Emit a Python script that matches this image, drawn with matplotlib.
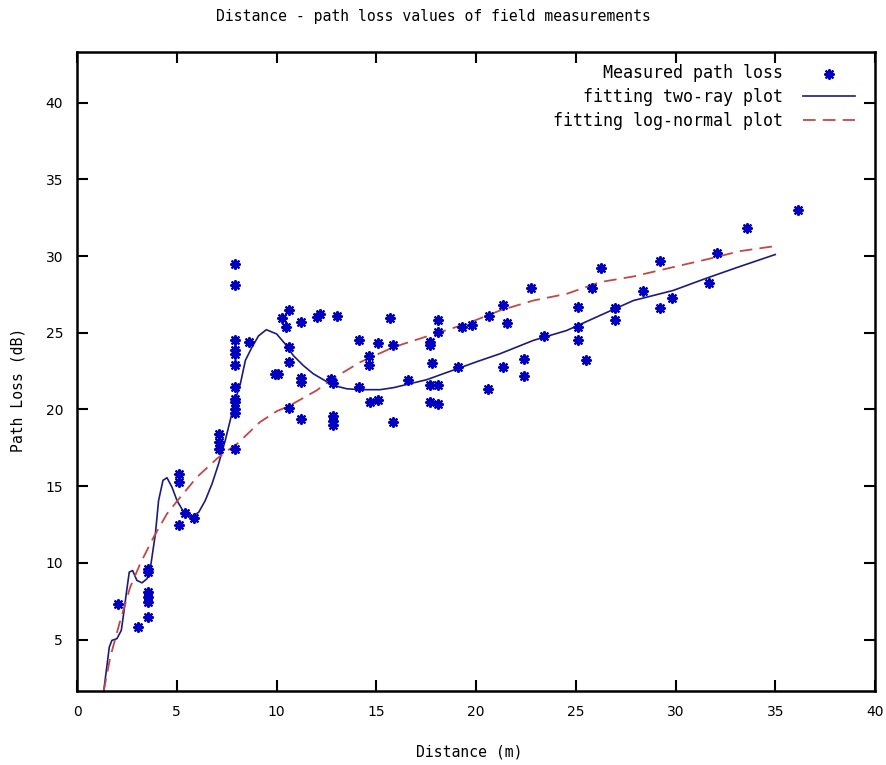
import matplotlib
matplotlib.use('agg')
import matplotlib.pyplot as plt
import numpy as np

# measured path loss points (distance m, loss dB)
meas_dist = [2.04, 3.06, 3.56, 3.56, 3.56, 3.56, 3.56, 3.56,
             5.1, 5.1, 5.1, 5.43, 5.88,
             7.1, 7.1, 7.1,
             7.93, 7.93, 7.93, 7.93, 7.93, 7.93, 7.93, 7.93, 7.93, 7.93, 7.93, 7.93, 8.6,
             9.9, 10.1, 10.29, 10.46, 10.63, 10.63, 10.63, 10.63,
             11.21, 11.21, 11.21, 11.21, 12.05, 12.2, 13.05,
             12.73, 12.82, 12.82, 12.82, 12.82,
             14.15, 14.15, 14.65, 14.65, 14.69, 15.07, 15.07, 15.69, 15.86, 15.86, 16.6,
             17.69, 17.69, 17.78, 17.69, 18.11, 17.69, 18.11, 18.1, 18.1,
             19.11, 19.31, 19.8, 20.62, 20.67, 21.34, 21.34, 21.57, 22.41, 22.41, 22.74, 23.41,
             25.13, 25.13, 25.13, 25.51, 25.8, 26.27, 26.97, 26.97, 28.39, 29.22, 29.22, 29.81,
             31.68, 32.1, 33.6, 36.16]
meas_loss = [7.35, 5.8, 9.6, 9.4, 8.1, 7.8, 7.45, 6.47,
             15.8, 15.27, 12.45, 13.25, 12.95,
             18.4, 17.9, 17.4,
             17.45, 19.8, 20.0, 20.5, 20.7, 21.45, 22.9, 23.6, 23.9, 24.5, 28.1, 29.5, 24.4,
             22.3, 22.3, 25.98, 25.4, 26.5, 24.06, 23.1, 20.1,
             25.7, 22.07, 21.8, 19.4, 26.0, 26.2, 26.06,
             22.0, 21.7, 19.55, 19.22, 18.96,
             24.5, 21.46, 23.5, 22.87, 20.48, 24.35, 20.6, 25.98, 24.2, 19.18, 21.94,
             24.4, 24.2, 23.0, 21.57, 21.57, 20.48, 20.33, 25.85, 25.04,
             22.76, 25.4, 25.5, 21.35, 26.06, 26.82, 22.76, 25.63, 23.3, 22.2, 27.9, 24.82,
             26.7, 25.37, 24.5, 23.2, 27.93, 29.2, 26.6, 25.85, 27.7, 29.67, 26.63, 27.28,
             28.23, 30.2, 31.84, 33.03]

# two-ray fit curve, traced
tworay_d = [1.34, 1.62, 1.75, 2.0, 2.22, 2.34, 2.47, 2.62, 2.79, 3.0, 3.26, 3.51, 3.71,
            3.93, 4.09, 4.31, 4.51, 4.76, 5.01, 5.35, 5.76, 6.1, 6.43, 6.77, 7.1, 7.43,
            7.68, 7.93, 8.19, 8.44, 8.77, 9.1, 9.49, 9.86, 10.0, 10.43, 10.84, 11.34, 11.84,
            12.35, 12.85, 13.52, 14.19, 15.19, 15.86, 16.69, 17.53, 18.36, 19.2, 20.12,
            21.2, 22.87, 24.55, 26.22, 27.89, 29.89, 31.56, 33.23, 35.0]
tworay_pl = [1.65, 4.52, 4.95, 5.06, 5.6, 6.7, 8.0, 9.4, 9.5, 8.86, 8.7, 8.97, 9.95,
             11.9, 14.07, 15.38, 15.55, 14.94, 14.07, 13.3, 13.0, 13.3, 14.07, 15.16, 16.47, 17.98,
             19.29, 20.6, 21.68, 23.2, 24.06, 24.8, 25.2, 25.0, 24.93, 24.28, 23.52, 22.87, 22.33,
             21.94, 21.57, 21.35, 21.29, 21.29, 21.42, 21.68, 21.94, 22.33, 22.72, 23.15,
             23.63, 24.5, 25.15, 26.13, 27.1, 27.76, 28.56, 29.32, 30.1]

# log-normal fit curve, traced
lognorm_d = [1.34, 1.67, 2.17, 2.67, 3.17, 3.84, 4.51, 5.18, 6.02, 7.02, 7.52, 8.02,
             9.17, 10.03, 10.59, 12.01, 12.68, 14.19, 15.86, 17.86, 19.53, 21.2, 22.87,
             24.55, 26.22, 27.89, 29.89, 31.56, 33.23, 35.0]
lognorm_pl = [1.65, 3.87, 6.26, 8.43, 9.95, 11.68, 13.2, 14.29, 15.6, 16.8, 17.3, 17.75,
              19.18, 19.9, 20.2, 21.24, 21.9, 23.08, 24.06, 24.9, 25.59, 26.45, 27.1,
              27.54, 28.3, 28.67, 29.28, 29.78, 30.32, 30.65]

W, H = 886, 765
fig = plt.figure(figsize=(W / 100, H / 100), dpi=100)
ax = fig.add_axes([77 / W, 1 - 691 / H, (875 - 77) / W, (691 - 52) / H])

mono = 'DejaVu Sans Mono'
fs = 10.6    # title / axis labels
fs_leg = 12  # gnuplot key text is a bit larger

ax.scatter(meas_dist, meas_loss, marker=(8, 2, 0), s=40, linewidths=1.6,
           color='#0000c0', label='Measured path loss', zorder=3)
ax.plot(tworay_d, tworay_pl, color='#1c1c78', lw=1.2, label='fitting two-ray plot', zorder=2)
ax.plot(lognorm_d, lognorm_pl, color='#c04848', lw=1.3, dashes=(7, 4),
        label='fitting log-normal plot', zorder=2)

ax.set_xlim(0, 40)
ax.set_ylim(1.65, 43.3)
ax.set_xticks(np.arange(0, 41, 5))
ax.set_yticks(np.arange(5, 41, 5))
ax.tick_params(direction='in', length=8, width=1.5, top=True, right=True,
               labelsize=10, pad=10)
for s in ax.spines.values():
    s.set_linewidth(1.8)

leg = ax.legend(loc='upper right', bbox_to_anchor=(1 - 20 / 798, 1 - 12 / 639),
                frameon=False, markerfirst=False, scatterpoints=1,
                handlelength=3.15, handletextpad=1.2, labelspacing=0.35,
                prop={'family': mono, 'size': fs_leg}, borderaxespad=0, borderpad=0)

fig.text(433 / W, 1 - 16 / H, 'Distance - path loss values of field measurements',
         ha='center', va='center', family=mono, fontsize=fs)
fig.text(469 / W, 1 - 752 / H, 'Distance (m)', ha='center', va='center',
         family=mono, fontsize=fs)
fig.text(18 / W, 1 - 390 / H, 'Path Loss (dB)', ha='center', va='center',
         rotation=90, family=mono, fontsize=fs)

fig.savefig('out.png', dpi=100)
